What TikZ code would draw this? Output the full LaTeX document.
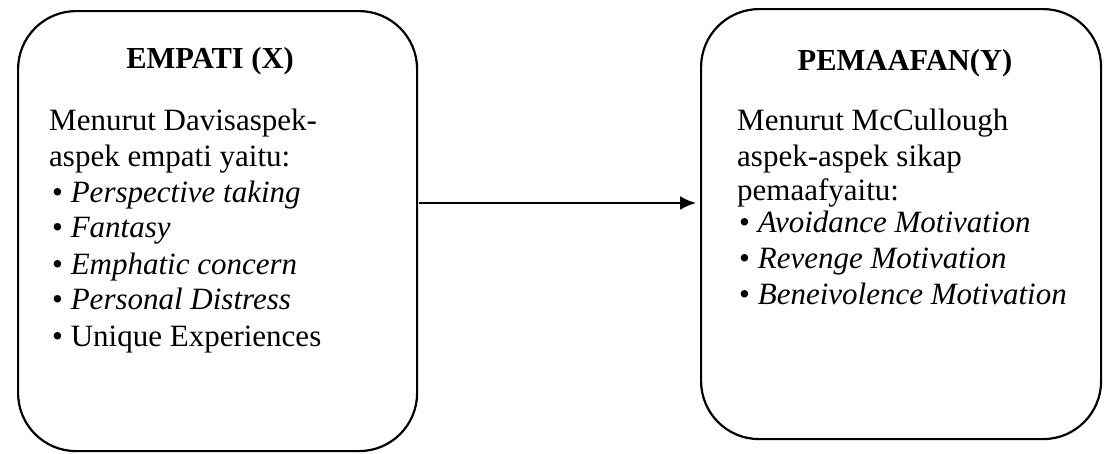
\documentclass[tikz,border=0pt]{standalone}
\usepackage{fontspec}
\setmainfont{Liberation Serif}
\usetikzlibrary{arrows.meta}
\begin{document}
\begin{tikzpicture}[x=1pt,y=-1pt,
  box/.style={draw, line width=2.2pt, rounded corners=58pt, inner sep=0pt},
  title/.style={font=\fontsize{30.5}{36}\selectfont\bfseries, anchor=base, inner sep=0pt},
  line/.style={font=\fontsize{31}{36}\selectfont, anchor=base west, inner sep=0pt},
  conn/.style={line width=2.2pt, -{Latex[length=16pt,width=14pt]}}]
\useasboundingbox (0,0) rectangle (1104,453);
\node[box, minimum width=399pt, minimum height=440pt, anchor=north west] (X) at (17,10) {};
\node[box, minimum width=400pt, minimum height=430pt, anchor=north west] (Y) at (700,8) {};
% left box text
\node[title] (tx) at (210,68) {EMPATI (X)};
\node[line] (l1) at (49,130) {Menurut Davisaspek-};
\node[line] (l2) at (49,166) {aspek empati yaitu:};
\node[line] (l3) at (52,202) {• \textit{Perspective taking}};
\node[line] (l4) at (52,237) {• \textit{Fantasy}};
\node[line] (l5) at (52,274) {• \textit{Emphatic concern}};
\node[line] (l6) at (52,309) {• \textit{Personal Distress}};
\node[line] (l7) at (52,346) {• Unique Experiences};
% right box text
\node[title] (ty) at (905,70) {PEMAAFAN(Y)};
\node[line] (r1) at (737,130) {Menurut McCullough};
\node[line] (r2) at (737,166) {aspek-aspek sikap};
\node[line] (r3) at (737,200) {pemaafyaitu:};
\node[line] (r4) at (739,232) {• \textit{Avoidance Motivation}};
\node[line] (r5) at (739,268) {• \textit{Revenge Motivation}};
\node[line] (r6) at (739,304) {• \textit{Beneivolence Motivation}};
% connector
\coordinate (ay) at (0,203);
\draw[conn, shorten <=1pt, shorten >=4pt] (X.east |- ay) -- (Y.west |- ay);
\end{tikzpicture}
\end{document}
